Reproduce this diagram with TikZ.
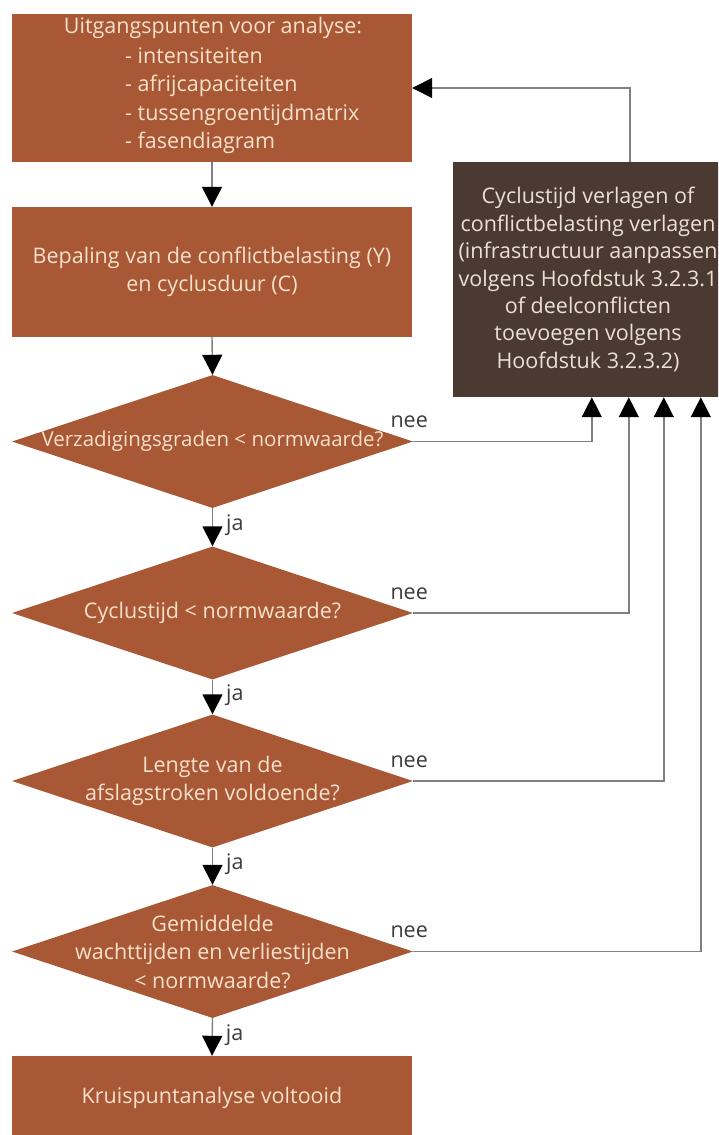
\documentclass[tikz,border=0pt]{standalone}
\usepackage{fontspec}
\setmainfont{Open Sans}
\usetikzlibrary{shapes.geometric,arrows.meta,calc}
\definecolor{rust}{RGB}{168,88,52}
\definecolor{bark}{RGB}{74,58,50}
\definecolor{cream}{RGB}{247,224,204}
\definecolor{pale}{RGB}{234,224,212}
\definecolor{wire}{RGB}{128,128,128}
\definecolor{ink}{RGB}{60,60,60}
\begin{document}
\begin{tikzpicture}[x=1pt,y=-1pt,
  box/.style={fill=rust,draw=none,minimum width=400pt,inner sep=0pt,
    text=cream,align=center,font=\fontsize{21.5}{28.5}\selectfont},
  dia/.style={diamond,fill=rust,draw=none,minimum width=401pt,
    minimum height=133pt,inner sep=0pt},
  dtext/.style={text=cream,align=center,inner sep=0pt,
    font=\fontsize{21.5}{28.5}\selectfont},
  note/.style={fill=bark,draw=none,inner sep=0pt,text=pale,align=center,
    minimum width=270pt,minimum height=235pt,
    font=\fontsize{21.5}{27.4}\selectfont},
  flow/.style={draw=wire,line width=1.4pt,
    -{Triangle[width=20pt,length=20pt,color=black,fill=black]}},
  lbl/.style={text=ink,inner sep=0pt,font=\fontsize{21.5}{24}\selectfont}
]
\useasboundingbox (0,0) rectangle (718,1135);
\clip (0,0) rectangle (718,1135);

% starting data
\node[box,minimum height=148pt] (start) at (212,88) {};
\node[dtext,anchor=base] (starttitle) at (213,33) {Uitgangspunten voor analyse:};
\node[dtext,anchor=base west,align=left] (item1) at (125,63) {- intensiteiten};
\node[dtext,anchor=base west,align=left] (item2) at (125,91.5) {- afrijcapaciteiten};
\node[dtext,anchor=base west,align=left] (item3) at (125,120) {- tussengroentijdmatrix};
\node[dtext,anchor=base west,align=left] (item4) at (125,148.5) {- fasendiagram};

% conflict load and cycle time
\node[box,minimum height=130pt] (calc) at (212,272)
  {Bepaling van de conflictbelasting (Y)\\en cyclusduur (C)};

% measures box
\node[note] (note) at (588,279.5)
  {Cyclustijd verlagen of\\conflictbelasting verlagen\\(infrastructuur aanpassen\\volgens Hoofdstuk 3.2.3.1\\of deelconflicten\\toevoegen volgens\\Hoofdstuk 3.2.3.2)};

% decisions
\node[dia] (d1) at (212.5,441.5) {};
\node[dtext,font=\fontsize{20.5}{28.5}\selectfont] (d1t) at (d1.center) {Verzadigingsgraden < normwaarde?};
\node[dia] (d2) at (212.5,613) {};
\node[dtext] (d2t) at (d2.center) {Cyclustijd < normwaarde?};
\node[dia] (d3) at (212.5,781) {};
\node[dtext] (d3t) at (d3.center) {Lengte van de\\afslagstroken voldoende?};
\node[dia] (d4) at (212.5,951.5) {};
\node[dtext] (d4t) at (d4.center) {Gemiddelde\\wachttijden en verliestijden\\< normwaarde?};

% result
\node[box,minimum height=84pt] (finish) at (212,1098) {Kruispuntanalyse voltooid};

% main flow
\draw[flow] (start.south) -- (calc.north);
\draw[flow] (calc.south) -- (d1.north);
\draw[flow] (d1.south) -- (d2.north) node[lbl,midway,anchor=west,xshift=13pt,yshift=2pt] {ja};
\draw[flow] (d2.south) -- (d3.north) node[lbl,midway,anchor=west,xshift=13pt,yshift=2pt] {ja};
\draw[flow] (d3.south) -- (d4.north) node[lbl,midway,anchor=west,xshift=13pt,yshift=2pt] {ja};
\draw[flow] (d4.south) -- (finish.north) node[lbl,midway,anchor=west,xshift=13pt,yshift=2pt] {ja};

% feedback loops
\draw[flow] (d1.east) -| ($(note.south west)+(139,0)$);
\draw[flow] (d2.east) -| ($(note.south west)+(176,0)$);
\draw[flow] (d3.east) -| ($(note.south west)+(211,0)$);
\draw[flow] (d4.east) -| ($(note.south west)+(248,0)$);
\draw[flow] ($(note.north west)+(177,0)$) |- (start.east);

\node[lbl] (n1) at ([xshift=-4pt,yshift=19.5pt]d1.east) {nee};
\node[lbl] (n2) at ([xshift=-4pt,yshift=19.5pt]d2.east) {nee};
\node[lbl] (n3) at ([xshift=-4pt,yshift=19.5pt]d3.east) {nee};
\node[lbl] (n4) at ([xshift=-4pt,yshift=19.5pt]d4.east) {nee};
\end{tikzpicture}
\end{document}
